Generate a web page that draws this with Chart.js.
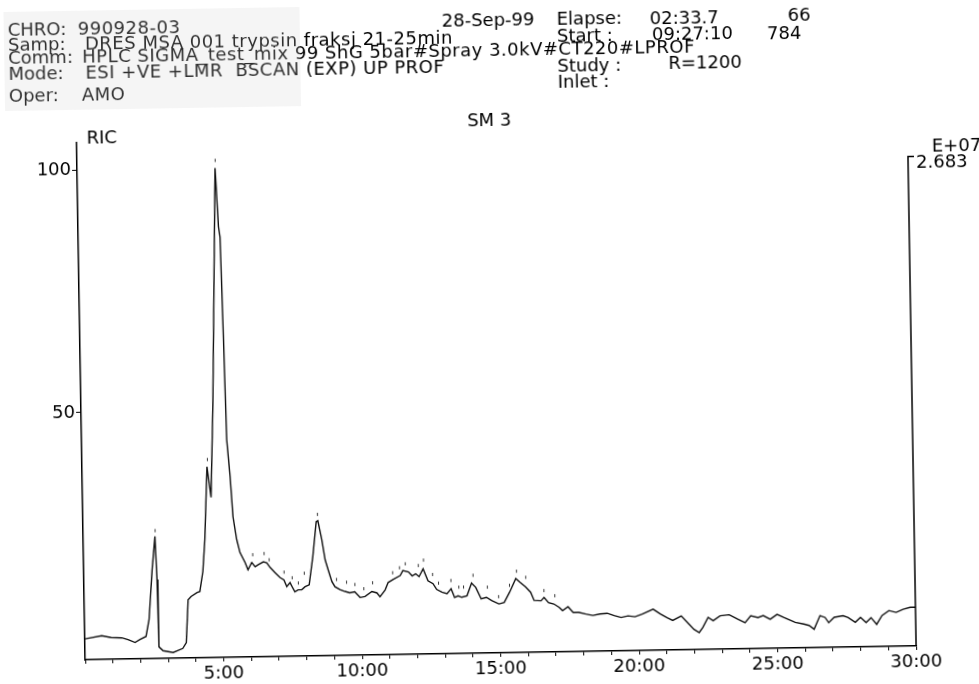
<!DOCTYPE html>
<html>
<head>
<meta charset="utf-8">
<title>RIC chromatogram</title>
<script src="https://cdn.jsdelivr.net/npm/chart.js@4.4.0/dist/chart.umd.min.js"></script>
<style>
  html, body { margin: 0; padding: 0; background: #fff; overflow: hidden; }
  #sheet {
    position: relative; width: 979px; height: 684px;
    transform: rotate(-0.95deg); transform-origin: 50% 50%;
    font-family: "DejaVu Sans", sans-serif; font-size: 18px; color: #000;
  }
  #sheet canvas { position: absolute; left: 0; top: 0; }
  .t { position: absolute; white-space: pre; line-height: 18px; }
  .h { letter-spacing: 0.5px; }
  #paste { position: absolute; left: 9px; top: 4px; width: 296px; height: 99px; background: rgba(210, 210, 210, 0.22); }
</style>
</head>
<body>
<div id="sheet">
  <canvas id="ric" width="979" height="684"></canvas>

  <!-- run header -->
  <div class="t" style="left:13px;top:13px">CHRO:</div>
  <div class="t h" style="left:83px;top:13px">990928-03</div>
  <div class="t" style="left:13px;top:28px">Samp:</div>
  <div class="t h" style="left:90px;top:28px">DRES MSA 001 trypsin fraksj 21-25min</div>
  <div class="t" style="left:13px;top:41px">Comm:</div>
  <div class="t h" style="left:87px;top:41px">HPLC SIGMA_test_mix 99 ShG 5bar#Spray 3.0kV#CT220#LPROF</div>
  <div class="t" style="left:13px;top:57px">Mode:</div>
  <div class="t h" style="left:90px;top:57px">ESI +VE +LMR  BSCAN (EXP) UP PROF</div>
  <div class="t" style="left:13px;top:79px">Oper:</div>
  <div class="t h" style="left:86px;top:79px">AMO</div>

  <div class="t" style="left:447px;top:11px">28-Sep-99</div>
  <div class="t" style="left:562px;top:11px">Elapse:</div>
  <div class="t" style="left:655px;top:12px">02:33.7</div>
  <div class="t" style="left:793px;top:11px">66</div>
  <div class="t" style="left:562px;top:28px">Start :</div>
  <div class="t" style="left:657px;top:28px">09:27:10</div>
  <div class="t" style="left:772px;top:29px">784</div>
  <div class="t" style="left:562px;top:58px">Study :</div>
  <div class="t" style="left:673px;top:57px">R=1200</div>
  <div class="t" style="left:562px;top:74px">Inlet :</div>

  <!-- trace labels -->
  <div class="t" style="left:90px;top:122px">RIC</div>
  <div class="t" style="left:493px;top:111px;transform:translateX(-50%)">SM 3</div>
  <div class="t" style="left:935px;top:144px">E+07</div>
  <div class="t" style="left:919px;top:160px">2.683</div>

  <div id="paste"></div>
</div>

<script>
// retention time (min) and relative intensity (% of 2.683E+07)
const retTime = [0, 0.61, 0.95, 1.33, 1.56, 1.81, 1.99, 2.21, 2.33, 2.47,
  2.59, 2.64, 2.67, 2.82, 3.18, 3.53, 3.66, 3.75, 3.86, 4.08,
  4.18, 4.30, 4.39, 4.51, 4.64, 4.76, 4.98, 5.07, 5.12, 5.18,
  5.24, 5.34, 5.42, 5.54, 5.65, 5.83, 5.93, 6.07, 6.19, 6.30,
  6.49, 6.61, 6.73, 6.91, 7.08, 7.22, 7.32, 7.44, 7.51, 7.61,
  7.73, 7.86, 7.98, 8.13, 8.28, 8.42, 8.48, 8.61, 8.72, 8.82,
  8.95, 9.06, 9.24, 9.42, 9.59, 9.77, 9.96, 10.14, 10.39, 10.57,
  10.68, 10.87, 10.98, 11.16, 11.42, 11.52, 11.72, 11.85, 11.98, 12.10,
  12.25, 12.42, 12.60, 12.73, 12.92, 13.10, 13.25, 13.37, 13.50, 13.63,
  13.82, 13.99, 14.14, 14.33, 14.52, 14.71, 14.97, 15.16, 15.36, 15.59,
  15.74, 15.94, 16.12, 16.24, 16.49, 16.60, 16.76, 16.95, 17.14, 17.26,
  17.46, 17.64, 17.84, 18.10, 18.35, 18.61, 18.87, 19.12, 19.37, 19.62,
  19.87, 20.13, 20.53, 20.78, 21.03, 21.23, 21.54, 21.81, 21.99, 22.18,
  22.31, 22.51, 22.69, 22.94, 23.27, 23.59, 23.84, 24.05, 24.31, 24.50,
  24.75, 25.00, 25.25, 25.65, 25.96, 26.15, 26.33, 26.55, 26.73, 26.86,
  27.06, 27.38, 27.56, 27.82, 28.01, 28.21, 28.39, 28.59, 28.79, 29.04,
  29.30, 29.55, 29.81, 30.00];

const ric = [3.3, 3.9, 3.5, 3.4, 3.0, 2.4, 3.0, 3.6, 7.1, 17.4,
  24.2, 15.3, 1.4, 0.6, 0.2, 1.0, 2.2, 11.0, 11.7, 12.5,
  12.7, 16.8, 23.4, 38.4, 32.1, 51.0, 100, 87.9, 85.7, 65.7,
  43.9, 36.3, 28.0, 23.3, 20.6, 18.5, 17.0, 18.5, 17.6, 18.0,
  18.6, 18.4, 17.4, 16.3, 15.3, 14.8, 13.4, 14.2, 13.4, 12.3,
  12.7, 12.7, 13.3, 13.7, 19.6, 26.7, 26.9, 23.0, 18.8, 16.8,
  14.3, 13.2, 12.6, 12.2, 11.9, 12.1, 10.9, 11.1, 12.1, 11.8,
  11.0, 12.4, 13.9, 14.5, 15.3, 16.3, 16.0, 15.2, 15.6, 15.0,
  16.6, 14.1, 13.5, 12.3, 11.7, 11.4, 12.4, 10.6, 10.9, 10.6,
  10.9, 13.5, 12.6, 10.2, 10.5, 9.8, 9.1, 9.4, 11.5, 14.3,
  13.5, 12.5, 11.4, 9.7, 9.6, 10.3, 9.2, 8.9, 8.2, 7.5,
  8.3, 7.1, 7.1, 6.7, 6.4, 6.7, 6.8, 6.3, 5.9, 6.2,
  6.0, 6.5, 7.5, 6.5, 5.7, 5.1, 6.0, 4.3, 3.2, 2.5,
  3.5, 5.6, 4.9, 5.9, 6.1, 5.1, 4.4, 5.8, 5.4, 5.8,
  5.0, 6.0, 5.3, 4.3, 3.9, 3.6, 2.8, 5.6, 5.2, 4.1,
  5.2, 5.5, 5.1, 4.1, 5.1, 4.0, 5.0, 3.6, 5.4, 6.4,
  6.0, 6.6, 7.0, 7.0];

// detected peak tick marks
const markTime = [2.60, 4.53, 4.99, 6.11, 6.52, 6.70, 7.23, 7.52, 7.74, 7.96,
  8.47, 9.12, 9.48, 9.78, 10.10, 10.42, 11.15, 11.40, 11.61, 12.08,
  12.27, 12.59, 12.80, 13.25, 13.53, 13.70, 14.05, 14.56, 14.96, 15.36,
  15.62, 15.95, 16.60, 16.99];
const markInt = [25.4, 39.9, 101.6, 20.1, 20.3, 19.0, 16.4, 15.2, 14.1, 16.1,
  28.2, 14.7, 14.1, 13.6, 12.7, 13.9, 15.9, 16.9, 17.7, 17.3,
  18.4, 15.4, 13.6, 14.1, 12.7, 12.7, 15.1, 12.6, 10.6, 12.9,
  15.8, 14.5, 11.7, 10.6];

const yTicks = [50, 100];
const fullScale = 100;

const axisFont = { family: 'DejaVu Sans', size: 18 };

// right hand full-scale bar
const rightAxis = {
  id: 'rightAxis',
  afterDraw(c) {
    const { ctx, chartArea, scales } = c;
    const top = scales.y.getPixelForValue(fullScale);
    ctx.save();
    ctx.strokeStyle = '#000';
    ctx.lineWidth = 1.5;
    ctx.beginPath();
    ctx.moveTo(chartArea.right + 6, top);
    ctx.lineTo(chartArea.right, top);
    ctx.lineTo(chartArea.right, chartArea.bottom);
    ctx.stroke();
    ctx.restore();
  }
};

new Chart(document.getElementById('ric'), {
  type: 'line',
  data: {
    datasets: [
      {
        data: retTime.map((t, i) => ({ x: t, y: ric[i] })),
        borderColor: '#111',
        borderWidth: 1.4,
        pointRadius: 0,
        tension: 0
      },
      {
        type: 'scatter',
        data: markTime.map((t, i) => ({ x: t, y: markInt[i] })),
        pointStyle: 'line',
        rotation: 90,
        pointRadius: 1.6,
        borderColor: '#333',
        borderWidth: 1
      }
    ]
  },
  options: {
    responsive: false,
    animation: false,
    devicePixelRatio: 1,
    layout: { padding: { left: 20, right: 68, top: 136, bottom: 0 } },
    plugins: { legend: { display: false }, tooltip: { enabled: false } },
    scales: {
      x: {
        type: 'linear', min: 0, max: 30,
        afterFit: s => { s.height = 31; },
        ticks: {
          stepSize: 1, autoSkip: false, maxRotation: 0, padding: 2,
          color: '#000', font: axisFont,
          callback: v => (v % 5 === 0 && v > 0) ? v + ':00' : ''
        },
        grid: { drawOnChartArea: false, tickLength: 4, color: '#000', lineWidth: 1 },
        border: { color: '#000', width: 1.5 }
      },
      y: {
        min: -1, max: 105.7,
        afterFit: s => { s.width = 60; },
        afterBuildTicks: s => { s.ticks = yTicks.map(v => ({ value: v })); },
        ticks: { padding: 1, color: '#000', font: axisFont },
        grid: { drawOnChartArea: false, tickLength: 5, color: '#000', lineWidth: 1 },
        border: { color: '#000', width: 1.5 }
      }
    }
  },
  plugins: [rightAxis]
});
</script>
</body>
</html>
